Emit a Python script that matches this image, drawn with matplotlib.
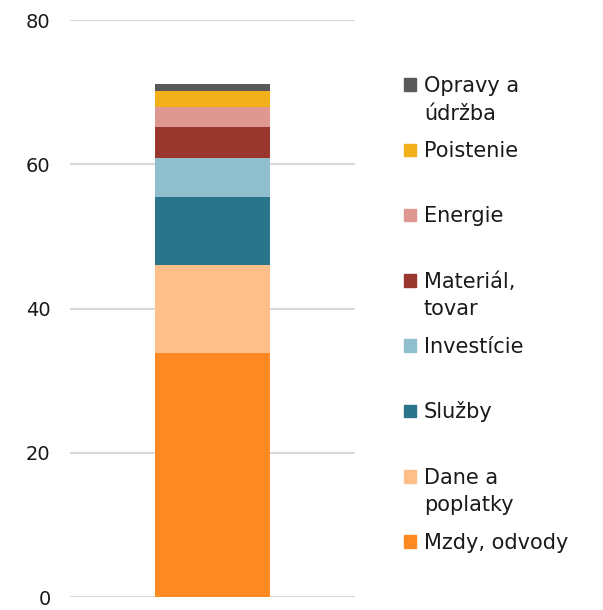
import matplotlib

matplotlib.use("Agg")
import matplotlib.pyplot as plt  # noqa: E402
from matplotlib.patches import Rectangle  # noqa: E402

plt.rcParams["font.family"] = ["DejaVu Sans"]

# bottom-to-top stacking order
categories = ["Mzdy, odvody", "Dane a\npoplatky", "Služby", "Investície",
              "Materiál,\ntovar", "Energie", "Poistenie", "Opravy a\núdržba"]
values = [33.9, 12.15, 9.35, 5.5, 4.2, 2.8, 2.3, 0.95]
colors = ["#FF8A24", "#FFBF8A", "#2A758A", "#8FBFCC",
          "#99362D", "#DE9891", "#F2B01A", "#595959"]
y_ticks = [0, 20, 40, 60, 80]

fig = plt.figure(figsize=(6.03, 6.10), dpi=100)
ax = fig.add_axes([0.116, 0.0213, 0.473, 0.9459])

bottom = 0.0
for val, col in zip(values, colors):
    ax.bar(0, val, width=0.404, bottom=bottom, color=col, zorder=3)
    bottom += val

ax.set_xlim(-0.5, 0.5)
ax.set_ylim(0, 80)
ax.set_yticks(y_ticks)
ax.set_xticks([])
ax.grid(axis="y", color="#d9d9d9", lw=1.5, zorder=0)
ax.tick_params(axis="y", length=0, pad=14, labelsize=14, labelcolor="#1a1a1a")
for s in ax.spines.values():
    s.set_visible(False)

# legend, top entry first, evenly spread down the right side
top_y = 1 - 84.5 / 610
step = 65.3 / 610
line_h = 27.7 / 610
sq_w = 12.5 / 603
sq_h = 12.5 / 610
for i, (lab, col) in enumerate(zip(categories[::-1], colors[::-1])):
    yc = top_y - i * step
    fig.patches.append(Rectangle((404 / 603, yc - sq_h / 2), sq_w, sq_h,
                                 transform=fig.transFigure, color=col))
    for j, line in enumerate(lab.split("\n")):
        fig.text(424 / 603, yc - 7.3 / 610 - j * line_h, line, fontsize=15,
                 color="#1a1a1a", va="baseline", ha="left")

fig.savefig("out.png", dpi=100)
plt.close(fig)
